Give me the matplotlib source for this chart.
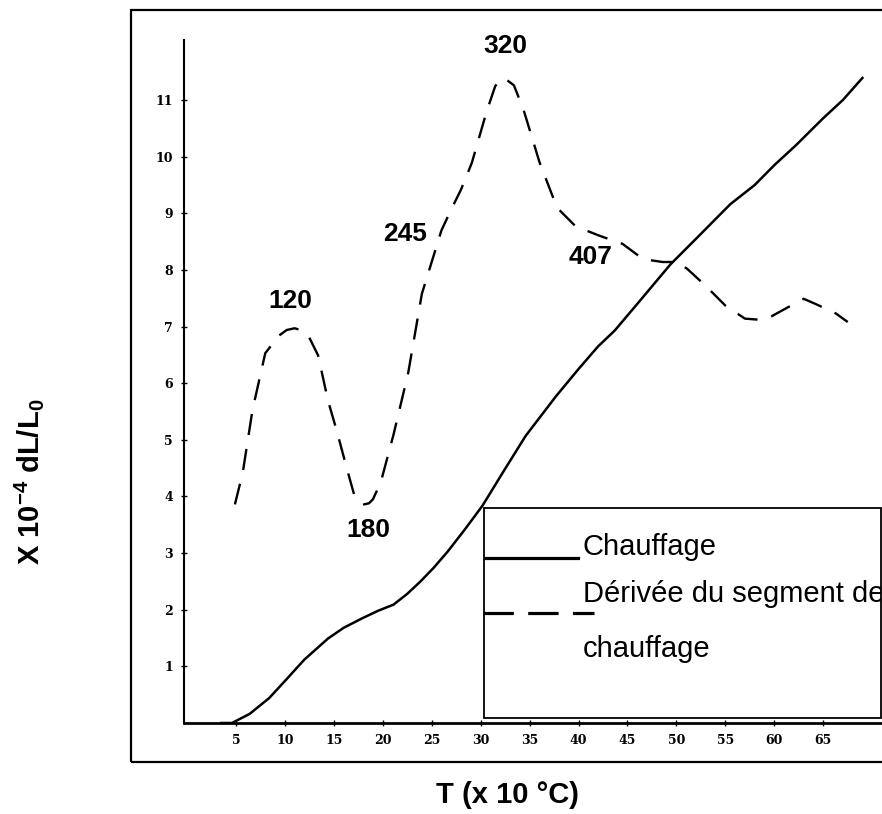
import matplotlib
matplotlib.use("Agg")
import matplotlib.pyplot as plt
from matplotlib.patches import Rectangle
from matplotlib.lines import Line2D

# heating curve (x 10 degC, x 1e-4 dL/L0)
heat_T = [3.5, 4.6, 6.4, 8.4, 10.0, 12.0, 14.4, 16.0, 17.8, 19.5, 21.1, 22.5,
          23.8, 25.2, 26.6, 28.4, 30.2, 32.4, 34.6, 37.7, 40.0, 42.0, 43.7,
          46.0, 49.4, 52.0, 55.5, 58.0, 60.0, 62.2, 65.0, 67.0, 69.0]
heat_dl = [0.0, 0.0, 0.16, 0.44, 0.74, 1.12, 1.49, 1.68, 1.84, 1.98, 2.09, 2.28,
           2.49, 2.74, 3.02, 3.42, 3.84, 4.46, 5.07, 5.77, 6.25, 6.65, 6.93,
           7.4, 8.1, 8.55, 9.16, 9.5, 9.85, 10.2, 10.68, 11.0, 11.39]

# derivative of the heating segment
deriv_T = [4.9, 5.7, 6.7, 8.0, 9.4, 10.2, 11.0, 11.8, 12.4, 13.4, 14.4, 15.3,
           16.5, 17.1, 17.6, 18.1, 18.6, 19.0, 19.8, 21.1, 22.6, 24.0, 25.0,
           26.0, 27.0, 28.0, 29.1, 30.6, 31.5, 32.4, 33.4, 34.4, 36.0, 37.8,
           39.7, 42.2, 44.5, 46.6, 48.6, 50.0, 51.1, 53.1, 55.0, 57.0, 58.5,
           59.7, 61.7, 63.0, 64.2, 66.3, 67.5]
deriv_dl = [3.86, 4.42, 5.53, 6.53, 6.84, 6.94, 6.97, 6.93, 6.84, 6.49, 5.7,
            5.16, 4.39, 4.02, 3.9, 3.86, 3.88, 3.95, 4.25, 5.09, 6.18, 7.58,
            8.14, 8.7, 9.07, 9.42, 9.89, 10.79, 11.25, 11.39, 11.26, 10.82,
            9.91, 9.1, 8.77, 8.6, 8.46, 8.19, 8.14, 8.14, 8.02, 7.7, 7.37,
            7.14, 7.12, 7.18, 7.37, 7.49, 7.4, 7.23, 7.08]

# transformation temperatures marked on the derivative
peak_labels = ["120", "180", "245", "320", "407"]
peak_T = [10.6, 18.5, 22.3, 32.5, 41.2]
peak_y = [7.45, 3.4, 8.63, 11.95, 8.22]

x_ticks = [5, 10, 15, 20, 25, 30, 35, 40, 45, 50, 55, 60, 65]
y_ticks = [1, 2, 3, 4, 5, 6, 7, 8, 9, 10, 11]
legend_labels = ["Chauffage", "Dérivée du segment de\nchauffage"]

W, H = 882, 814
plt.rcParams['mathtext.fontset'] = 'custom'
plt.rcParams['mathtext.rm'] = 'Liberation Sans:bold'
plt.rcParams['mathtext.bf'] = 'Liberation Sans:bold'


def fx(px):
    return px / W


def fy(py):
    return 1 - py / H


fig = plt.figure(figsize=(W / 100, H / 100), dpi=100)
fig.patch.set_facecolor('white')

# outer frame of the scanned figure
fig.add_artist(Rectangle((fx(131), fy(762)), 1.2, fy(10) - fy(762),
                         transform=fig.transFigure, fill=False,
                         edgecolor='black', lw=1.6))

ax = fig.add_axes([fx(184), fy(723), 1 - fx(184), fy(40) - fy(723)])
ax.plot(heat_T, heat_dl, color='black', lw=1.8)
ax.plot(deriv_T, deriv_dl, color='black', lw=1.7, dashes=(9, 6))

for lab, xt, yt in zip(peak_labels, peak_T, peak_y):
    ax.text(xt, yt, lab, ha='center', va='center', fontsize=19,
            fontweight='bold', family='Liberation Sans')

ax.set_xlim(-0.3, 71)
ax.set_ylim(0, 12.06)
ax.set_xticks(x_ticks)
ax.set_yticks(y_ticks)
ax.tick_params(direction='inout', length=4, width=1, pad=6)
for lbl in ax.get_xticklabels() + ax.get_yticklabels():
    lbl.set_fontfamily('DejaVu Serif')
    lbl.set_fontweight('bold')
    lbl.set_fontsize(9)
for side in ['top', 'right']:
    ax.spines[side].set_visible(False)
ax.spines['left'].set_linewidth(1.5)
ax.spines['bottom'].set_linewidth(2.0)
ax.set_facecolor('none')

fig.text(fx(507), fy(795), "T (x 10 °C)", ha='center', va='center',
         fontsize=21, fontweight='bold', family='Liberation Sans')
fig.text(fx(29), fy(482), r"X 10$^{-4}$ dL/L$_{0}$", rotation=90,
         ha='center', va='center', fontsize=21, fontweight='bold',
         family='Liberation Sans')

# legend box
box = Rectangle((fx(484), fy(718)), fx(881) - fx(484), fy(508) - fy(718),
                transform=fig.transFigure, fill=True, facecolor='white',
                edgecolor='black', lw=1.3, zorder=5)
fig.add_artist(box)
fig.add_artist(Line2D([fx(485), fx(578)], [fy(558), fy(558)],
                      transform=fig.transFigure, color='black', lw=2.3, zorder=6))
fig.add_artist(Line2D([fx(483), fx(594)], [fy(613), fy(613)],
                      transform=fig.transFigure, color='black', lw=2.3,
                      dashes=(9.5, 4.5), zorder=6))
text_rows = [legend_labels[0]] + legend_labels[1].split("\n")
for row, base in zip(text_rows, [555, 602, 657]):
    t = fig.text(fx(583), fy(base), row, ha='left', va='baseline',
                 fontsize=21, family='Liberation Sans', zorder=6)
    t.set_clip_path(box)

fig.savefig("out.png", dpi=100)
